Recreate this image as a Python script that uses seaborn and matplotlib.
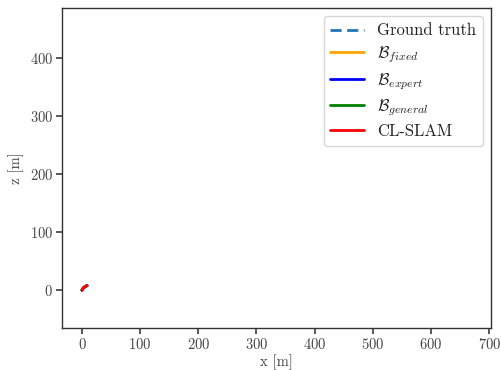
import matplotlib
matplotlib.use('Agg')
import matplotlib.pyplot as plt
import pandas as pd
import seaborn as sns

# start of the trajectory (only the first frames are drawn)
traj_x = [0.0, 1.0, 2.5, 4.5, 6.8, 9.0]
traj_z = [0.0, 2.0, 4.0, 5.5, 7.0, 8.0]

methods = ['Ground truth', r'$\mathcal{B}_{fixed}$', r'$\mathcal{B}_{expert}$',
           r'$\mathcal{B}_{general}$', 'CL-SLAM']
colors = ['#1f77b4', 'orange', 'blue', 'green', 'red']
dashes = [(4, 2), '', '', '', '']

x_ticks = [0, 100, 200, 300, 400, 500, 600, 700]
z_ticks = [0, 100, 200, 300, 400]

sns.set_theme(style='ticks')
plt.rcParams['font.family'] = 'serif'
plt.rcParams['font.serif'] = ['cmr10', 'DejaVu Serif']
plt.rcParams['mathtext.fontset'] = 'cm'
plt.rcParams['axes.formatter.use_mathtext'] = True
plt.rcParams['axes.edgecolor'] = '#333333'
plt.rcParams['axes.linewidth'] = 1.0

rows = []
for m in methods:
    for i, (x, z) in enumerate(zip(traj_x, traj_z)):
        rows.append({'method': m, 'x': x, 'z': z, 'i': i})
df = pd.DataFrame(rows)

fig = plt.figure(figsize=(5.01, 3.70), dpi=100)
ax = fig.add_axes([0.124, 0.1135, 0.856, 0.8645])

sns.lineplot(data=df, x='x', y='z', hue='method', style='method', sort=False,
             palette=dict(zip(methods, colors)), dashes=dict(zip(methods, dashes)),
             hue_order=methods, style_order=methods, linewidth=2, ax=ax, estimator=None,
             units='method')

ax.set_xlim(-34, 703)
ax.set_ylim(-65, 486)
ax.set_xticks(x_ticks)
ax.set_yticks(z_ticks)
ax.set_xlabel('x [m]', fontsize=10.5, color='#444444', labelpad=2)
ax.set_ylabel('z [m]', fontsize=10.5, color='#444444', labelpad=4)
ax.tick_params(labelsize=10.5, colors='#444444', length=4, pad=2.5)

leg = ax.legend(loc='upper right', fontsize=12, frameon=True, fancybox=True,
                handlelength=2.0, borderaxespad=0.5, labelspacing=0.35)
leg.get_frame().set_edgecolor('#cccccc')
for t in leg.get_texts():
    t.set_color('#222222')

fig.savefig('out.png', dpi=100)
